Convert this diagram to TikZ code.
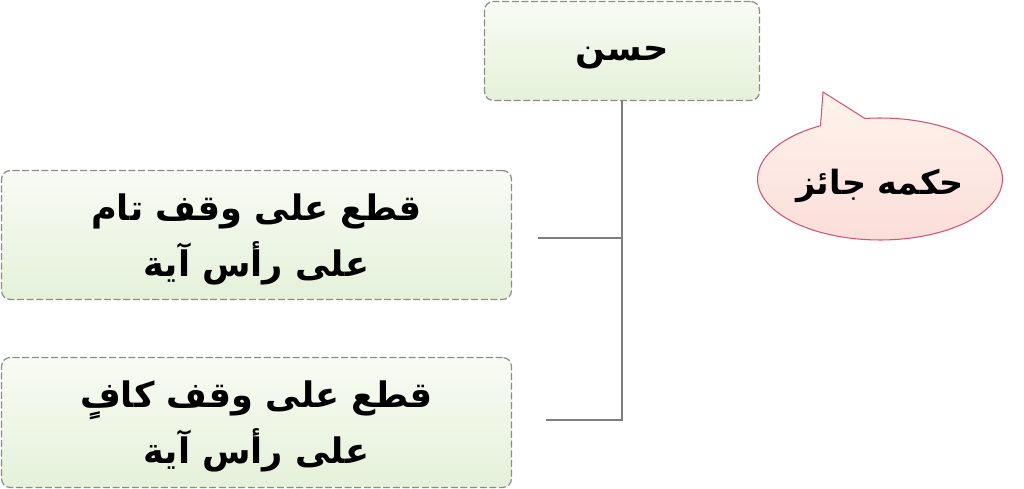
\documentclass[tikz,border=0pt]{standalone}
\usepackage{fontspec}
\newfontfamily\arabicfont[Script=Arabic]{DejaVu Sans}
\TeXXeTstate=1
\usetikzlibrary{shapes.callouts}
\definecolor{boxtop}{HTML}{F8FBF4}
\definecolor{boxbottom}{HTML}{E5F1DA}
\definecolor{boxline}{HTML}{8C8C8C}
\definecolor{bubtop}{HTML}{FFF4EC}
\definecolor{bubbottom}{HTML}{FADCD9}
\definecolor{bubline}{HTML}{D2566E}
\definecolor{linkline}{HTML}{7E7E7E}
\begin{document}
\begin{tikzpicture}[x=0.02cm, y=-0.02cm,
        box/.style={shape=rectangle, rounded corners=5pt, draw=boxline, dash pattern=on 4pt off 1.5pt,
            line width=0.7pt, top color=boxtop, bottom color=boxbottom, align=center, text depth=0pt,
            font=\arabicfont\bfseries\fontsize{20}{32}\selectfont},
        bubble/.style={shape=ellipse callout, draw=bubline, line width=0.6pt, top color=bubtop,
            bottom color=bubbottom, inner sep=0pt, minimum width=4.9cm, minimum height=2.44cm,
            callout pointer arc=22, text depth=0pt,
            font=\arabicfont\bfseries\fontsize{19}{31}\selectfont},
        link/.style={draw=linkline, line width=1pt}
    ]
        \useasboundingbox (0,0) rectangle (1024,489);

        \node[box, minimum width=5.5cm, minimum height=1.98cm] (hasan) at (622,51) {\raisebox{-3pt}{\beginR حسن\endR}};
        \node[box, minimum width=10.2cm, minimum height=2.58cm] (tam) at (256.5,235)
            {\beginR قطع على وقف تام\endR\\\beginR على رأس آية\endR};
        \node[box, minimum width=10.2cm, minimum height=2.6cm] (kaf) at (256.5,422.5)
            {\beginR قطع على وقف كافٍ\endR\\\beginR على رأس آية\endR};

        \node[bubble, callout absolute pointer={(823,92)}] (hukm) at (880,179) {\raisebox{-3pt}{\beginR حكمه جائز\endR}};

        % connectors
        \coordinate (tamend) at (538,238);
        \coordinate (kafend) at (546,420);
        \draw[link] (hasan.south) |- (kafend);
        \draw[link] (tamend) -- (tamend -| hasan.south);
    \end{tikzpicture}
\end{document}
